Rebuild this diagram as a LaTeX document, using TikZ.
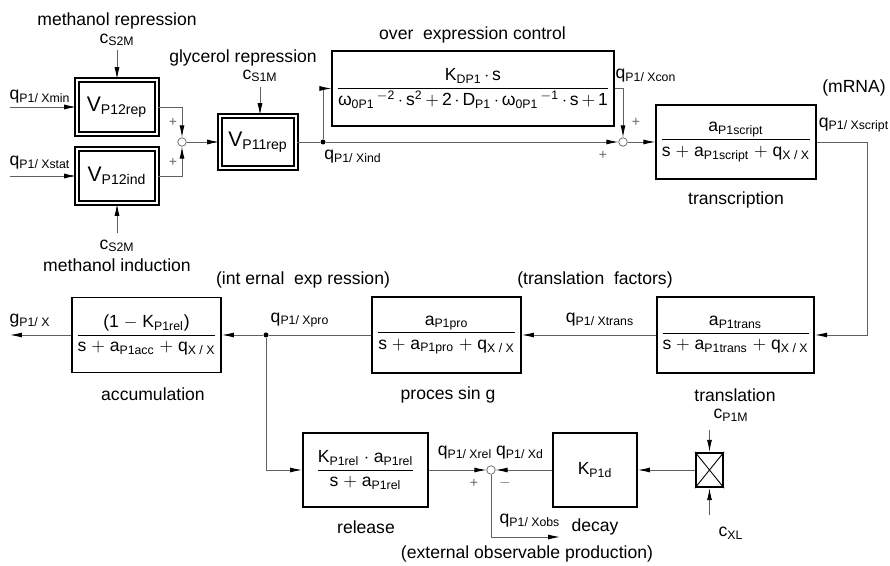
\documentclass[tikz,border=0pt]{standalone}
\usepackage{amsmath}
\usepackage{fontspec}
\setmainfont{Liberation Sans}
\usetikzlibrary{arrows.meta, positioning}

\newcommand{\ix}[2]{#1\textsubscript{#2}}

\tikzset{
	blk/.style={draw, line width=1.1pt, inner sep=2pt},
	dblk/.style={draw, line width=0.9pt, double, double distance=1.5pt, inner sep=2pt},
	wire/.style={draw=gray!75!black, line width=0.5pt},
	sig/.style={wire, -{Latex[length=2.4mm, width=1mm, color=black]}},
	sumpt/.style={circle, draw=gray!75!black, fill=white, inner sep=0pt, minimum size=0.17cm},
	dotpt/.style={circle, fill=black, inner sep=0pt, minimum size=0.1cm},
	sgn/.style={font=\footnotesize, text=gray!80!black, inner sep=0pt}
}

\begin{document}
\begin{tikzpicture}[font=\fontsize{10}{12}\selectfont]
				\useasboundingbox (0, 0) rectangle (17.8, -11.32);

				\node (MetRep) at (2.34, -0.42) {methanol repression};
				\node (CS2Ma) at (2.34, -0.8) {\ix{c}{S2M}};
				\coordinate (CS2MaEnd) at (2.34, -1.0);
				\node (V12rep) [dblk, minimum width=1.6cm, minimum height=1.08cm] at (2.34, -2.14) {\large\ix{V}{P12rep}};
				\node (V12ind) [dblk, minimum width=1.6cm, minimum height=1.08cm] at (2.34, -3.52) {\large\ix{V}{P12ind}};
				\coordinate (CS2MbEnd) at (2.34, -4.66);
				\node (CS2Mb) at (2.34, -4.92) {\ix{c}{S2M}};
				\node (MetInd) at (2.34, -5.3) {methanol induction};
				\draw[sig] (CS2MaEnd) -- (V12rep.north);
				\draw[sig] (CS2MbEnd) -- (V12ind.south);

				\node (LMin) at (0.8, -1.94) {\ix{q}{P1/ Xmin}};
				\coordinate (InMin) at (0.2, -2.14);
				\node (LStat) at (0.8, -3.26) {\ix{q}{P1/ Xstat}};
				\coordinate (InStat) at (0.2, -3.52);
				\draw[sig] (InMin) -- (V12rep.west);
				\draw[sig] (InStat) -- (V12ind.west);

				\node (Sum1) [sumpt] at (3.64, -2.84) {};
				\draw[sig] (V12rep.east) -| (Sum1.north);
				\draw[sig] (V12ind.east) -| (Sum1.south);
				\node [sgn] at (3.46, -2.44) {+};
				\node [sgn] at (3.46, -3.24) {+};

				\node (GlyRep) at (4.86, -1.16) {glycerol repression};
				\node (CS1M) at (5.2, -1.52) {\ix{c}{S1M}};
				\coordinate (CS1MEnd) at (5.2, -1.74);
				\node (V11rep) [dblk, minimum width=1.52cm, minimum height=1.04cm] at (5.16, -2.84) {\large\ix{V}{P11rep}};
				\draw[sig] (Sum1.east) -- (V11rep.west);
				\draw[sig] (CS1MEnd) -- (V11rep.north west -| CS1MEnd);

				\node (Dot1) [dotpt] at (6.46, -2.84) {};
				\draw[wire] (V11rep.east) -- (Dot1);
				\node (LInd) at (7.06, -3.14) {\ix{q}{P1/ Xind}};

				\node (OverTxt) at (9.45, -0.7) {over \ expression control};
				\node (Over) [blk, minimum width=5.12cm, minimum height=1.5cm] at (9.46, -1.77)
					{$\dfrac{\text{\ix{K}{DP1}\,$\cdot$\,s}}{\text{ω\textsubscript{0P1}\textsuperscript{\,$-$2}\,$\cdot$\,s\textsuperscript{2}\,$+$\,2\,$\cdot$\,\ix{D}{P1}\,$\cdot$\,ω\textsubscript{0P1}\textsuperscript{\,$-$1}\,$\cdot$\,s\,$+$\,1}}$};
				\draw[sig] (Dot1) |- (Over.west);

				\node (Sum2) [sumpt] at (12.46, -2.84) {};
				\draw[sig] (Dot1) -- (Sum2.west);
				\draw[sig] (Over.east) -| (Sum2.north);
				\node (LCon) at (12.92, -1.52) {\ix{q}{P1/ Xcon}};
				\node [sgn] at (12.72, -2.44) {+};
				\node [sgn] at (12.06, -3.1) {+};

				\node (Tscr) [blk, minimum width=3.04cm, minimum height=1.48cm] at (14.72, -2.84)
					{$\dfrac{\text{\ix{a}{P1script}}}{\text{s $+$ \ix{a}{P1script} $+$ \ix{q}{X / X}}}$};
				\node (TscrTxt) at (14.72, -4.0) {transcription};
				\draw[sig] (Sum2.east) -- (Tscr.west);
				\node (MRNA) at (17.08, -1.76) {(mRNA)};
				\node (LScr) at (17.08, -2.5) {\ix{q}{P1/ Xscript}};

				\coordinate (TurnR) at (17.34, -2.84);
				\node (Tlat) [blk, minimum width=3.02cm, minimum height=1.52cm] at (14.71, -6.7)
					{$\dfrac{\text{\ix{a}{P1trans}}}{\text{s $+$ \ix{a}{P1trans} $+$ \ix{q}{X / X}}}$};
				\node (TlatTxt) at (14.7, -7.9) {translation};
				\draw[sig] (Tscr.east) -- (TurnR) |- (Tlat.east);

				\node (TFac) at (11.9, -5.6) {(translation \ factors)};
				\node (LTrans) at (12.0, -6.4) {\ix{q}{P1/ Xtrans}};
				\node (Proc) [blk, minimum width=2.98cm, minimum height=1.52cm] at (8.93, -6.7)
					{$\dfrac{\text{\ix{a}{P1pro}}}{\text{s $+$ \ix{a}{P1pro} $+$ \ix{q}{X / X}}}$};
				\node (ProcTxt) at (8.96, -7.9) {proces sin g};
				\draw[sig] (Tlat.west) -- (Proc.east);

				\node (IntExp) at (6.06, -5.6) {(int ernal \ exp ression)};
				\node (LPro) at (6.0, -6.4) {\ix{q}{P1/ Xpro}};
				\node (Dot2) [dotpt] at (5.32, -6.7) {};
				\node (Accu) [blk, minimum width=2.74cm, minimum height=1.5cm] at (2.93, -6.7)
					{$\dfrac{\text{(1 $-$ \ix{K}{P1rel})}}{\text{s $+$ \ix{a}{P1acc} $+$ \ix{q}{X / X}}}$};
				\node (AccuTxt) at (3.06, -7.88) {accumulation};
				\draw[wire] (Proc.west) -- (Dot2);
				\draw[sig] (Dot2) -- (Accu.east);
				\coordinate (OutG) at (0.2, -6.7);
				\node (LG) at (0.6, -6.42) {\ix{g}{P1/ X}};
				\draw[sig] (Accu.west) -- (OutG);

				\node (Rel) [blk, minimum width=2.5cm, minimum height=1.48cm] at (7.31, -9.4)
					{$\dfrac{\text{\ix{K}{P1rel} $\cdot$ \ix{a}{P1rel}}}{\text{s $+$ \ix{a}{P1rel}}}$};
				\node (RelTxt) at (7.32, -10.54) {release};
				\draw[sig] (Dot2) |- (Rel.west);

				\node (Sum3) [sumpt] at (9.82, -9.4) {};
				\node (Decay) [blk, minimum width=1.68cm, minimum height=1.48cm] at (11.9, -9.4) {\ix{K}{P1d}};
				\node (DecayTxt) at (11.9, -10.54) {decay};
				\draw[sig] (Rel.east) -- (Sum3.west);
				\draw[sig] (Decay.west) -- (Sum3.east);
				\node (LRel) at (9.3, -9.06) {\ix{q}{P1/ Xrel}};
				\node (LD) at (10.4, -9.06) {\ix{q}{P1/ Xd}};
				\node [sgn] at (9.48, -9.66) {+};
				\node [sgn] at (10.1, -9.66) {$-$};

				\coordinate (ObsEnd) at (11.2, -10.74);
				\draw[sig] (Sum3.south) |- (ObsEnd);
				\node (LObs) at (10.6, -10.42) {\ix{q}{P1/ Xobs}};
				\node (ExtObs) at (10.54, -11.08) {(external observable production)};

				\node (Mult) [draw, line width=1.3pt, minimum width=0.54cm, minimum height=0.68cm, inner sep=0pt] at (14.19, -9.4) {};
				\draw[line width=0.5pt] (Mult.north west) -- (Mult.south east);
				\draw[line width=0.5pt] (Mult.north east) -- (Mult.south west);
				\draw[sig] (Mult.west) -- (Decay.east);
				\node (CP1M) at (14.62, -8.3) {\ix{c}{P1M}};
				\coordinate (CP1MEnd) at (14.19, -8.6);
				\node (CXL) at (14.62, -10.66) {\ix{c}{XL}};
				\coordinate (CXLEnd) at (14.19, -10.3);
				\draw[sig] (CP1MEnd) -- (Mult.north);
				\draw[sig] (CXLEnd) -- (Mult.south);
			\end{tikzpicture}
\end{document}
